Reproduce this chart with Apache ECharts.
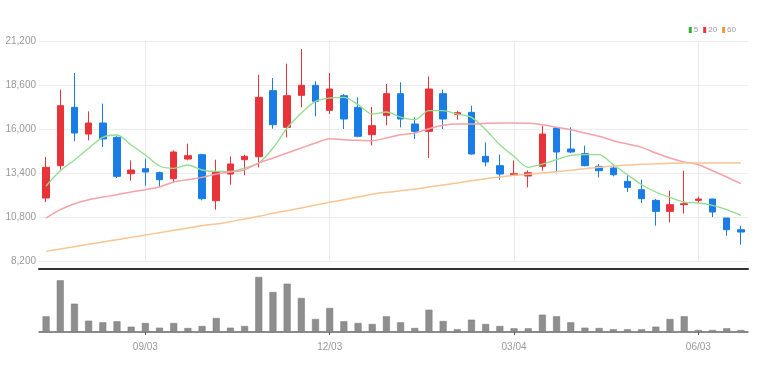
<!DOCTYPE html>
<html><head><meta charset="utf-8">
<script src="https://cdn.jsdelivr.net/npm/echarts@6/dist/echarts.min.js"></script>
<style>html,body{margin:0;padding:0;background:#fff}#c{width:764px;height:374px}</style>
</head><body><div id="c"></div>
<script>
// candle values: [open, close, low, high]
const opens  = [11939,13850,17297,15721,16371,15524,13377,13673,13436,13082,14244,14500,11781,13357,14204,14382,18282,16115,18007,18598,17120,17987,17297,15682,16825,18105,16312,15879,18105,16864,17002,14401,13850,13279,13239,13810,16076,14835,14559,13810,13712,12924,12431,11801,11151,11545,11801,11880,10757,10067];
const closes = [13751,17396,15780,16371,15426,13219,13594,13476,13022,14658,14441,11900,13456,13948,14401,17888,16273,17987,18598,17652,18381,16608,15583,16214,18105,16608,15879,18381,16608,16982,14539,14067,13357,13377,13436,15721,14658,14658,13850,13554,13318,12569,11900,11151,11545,11604,11880,11112,10067,9930];
const lows   = [11703,13613,15288,15347,14953,13121,12963,12668,12589,12825,14165,11801,11249,12727,13279,13751,16037,15524,17297,16765,16903,16017,15524,15052,16234,16115,15426,14303,16017,16568,14500,13810,13022,13279,12569,13554,13456,14598,13810,13160,13219,12294,11643,10304,10501,11013,11643,10816,9713,9181];
const highs  = [14362,18341,19326,17061,17514,15600,14165,14264,13500,14756,15150,14559,14204,14401,14500,19228,19031,19878,20745,18834,19326,18085,17888,17317,18676,18775,16706,19129,18341,17100,17396,15229,14500,14165,13574,16214,16115,16115,15032,13948,13948,13279,13022,11880,12372,13554,12018,11900,10760,10304];
const volumes = [15.7,51.7,28.3,11.3,9.7,10.7,5.3,9,4.3,9,4,6,14,4.3,6,55,40,48.3,34,13,24,10.7,9,8,15.7,9.7,4,22.3,11,2.7,12.3,8,6,3.7,3.7,17.3,15.7,9.7,4.3,4,2.7,2.7,2.7,5.3,13,15.7,2,2,3.7,2];
const ma5  = [12650,13550,14186,14877,15527,15664,15072,14481,13832,13695,13890,13595,13518,13515,13712,14008,14894,16076,16962,17652,17849,17888,17455,16903,17022,16726,16569,17100,17100,16903,16707,15978,15091,14402,13751,13948,14204,14461,14500,14500,13909,13318,12727,12294,11979,11703,11644,11506,11250,10915];
const ma20 = [10757,11250,11604,11841,11998,12136,12294,12432,12589,12885,13023,13160,13360,13476,13614,14008,14303,14599,14894,15190,15446,15387,15347,15328,15485,15682,15781,16037,16234,16313,16313,16352,16372,16372,16352,16273,16115,15978,15781,15584,15328,15130,14934,14599,14303,14067,13909,13554,13180,12786];
const ma60 = [8787,8925,9063,9201,9339,9477,9614,9752,9890,10028,10166,10304,10402,10540,10698,10856,11033,11190,11348,11525,11683,11841,11998,12156,12274,12373,12471,12589,12707,12826,12963,13082,13180,13279,13338,13417,13495,13574,13673,13751,13830,13889,13929,13968,13988,14008,14008,14008,14008,14008];
const tickIndex  = [7, 20, 33, 46];
const tickLabels = ['09/03', '12/03', '03/04', '06/03'];
const yTicks = [8200, 10800, 13400, 16000, 18600, 21200];

const categories = opens.map((_, i) => 'd' + i);
const labelOf = {};
tickIndex.forEach((ix, k) => { labelOf[categories[ix]] = tickLabels[k]; });
const showTick = (idx) => tickIndex.indexOf(idx) >= 0;
const candleData = opens.map((o, i) => [o, closes[i], lows[i], highs[i]]);
const FONT = "'Liberation Sans Narrow', 'Liberation Sans', sans-serif";

const chart = echarts.init(document.getElementById('c'), null, {renderer: 'canvas'});
chart.setOption({
  animation: false,
  backgroundColor: '#fff',
  legend: {
    right: 23, top: 21,
    itemWidth: 3, itemHeight: 6, itemGap: 5,
    textStyle: {fontSize: 8, color: '#999', fontFamily: FONT, padding: [0, 0, 0, -3]},
    data: [{name: '5', icon: 'rect'}, {name: '20', icon: 'rect'}, {name: '60', icon: 'rect'}]
  },
  grid: [
    {left: 39, right: 16, top: 41.3, bottom: 112.7},
    {left: 39, right: 16, top: 275, bottom: 42}
  ],
  xAxis: [
    {type: 'category', gridIndex: 0, data: categories, boundaryGap: true, offset: 7,
     axisLine: {show: true, lineStyle: {color: '#333', width: 2}},
     axisTick: {show: false}, axisLabel: {show: false}, splitLine: {show: false}},
    {type: 'category', gridIndex: 1, data: categories, boundaryGap: true,
     axisLine: {show: true, lineStyle: {color: '#666', width: 1.5}},
     axisTick: {show: true, alignWithLabel: true, interval: (i) => showTick(i), length: 3, lineStyle: {color: '#555'}},
     axisLabel: {show: true, interval: (i) => showTick(i), formatter: (v) => labelOf[v] || '', color: '#999', fontSize: 10, fontFamily: FONT, margin: 10},
     splitLine: {show: false}}
  ],
  yAxis: [
    {type: 'value', gridIndex: 0, min: 8200, max: 21200, interval: 2600, position: 'left',
     axisLine: {show: false}, axisTick: {show: false},
     axisLabel: {color: '#999', fontSize: 10, fontFamily: FONT, margin: 3,
       formatter: (v) => yTicks.indexOf(v) >= 0 ? v.toLocaleString('en-US') : ''},
     splitLine: {show: true, lineStyle: {color: '#ececec', width: 1}}},
    {type: 'value', gridIndex: 1, min: 0, max: 57, show: false, splitLine: {show: false}}
  ],
  series: [
    {type: 'candlestick', name: 'price', xAxisIndex: 0, yAxisIndex: 0, data: candleData, barWidth: 7, z: 3,
     itemStyle: {color: '#e8333b', color0: '#1a7de6', borderColor: '#e8333b', borderColor0: '#1a7de6', borderWidth: 1},
     markLine: {silent: true, symbol: 'none', z: 1, label: {show: false},
       lineStyle: {color: '#e9e9e9', type: 'solid', width: 1},
       data: tickIndex.map(i => ({xAxis: categories[i]}))}},
    {type: 'line', name: '5', xAxisIndex: 0, yAxisIndex: 0, data: ma5, smooth: 0.3, showSymbol: false, z: 4,
     itemStyle: {color: '#2cb52c'}, lineStyle: {color: '#92dc8e', width: 1.3}},
    {type: 'line', name: '20', xAxisIndex: 0, yAxisIndex: 0, data: ma20, smooth: 0.3, showSymbol: false, z: 4,
     itemStyle: {color: '#e8333b'}, lineStyle: {color: '#f5a2a8', width: 1.5}},
    {type: 'line', name: '60', xAxisIndex: 0, yAxisIndex: 0, data: ma60, smooth: 0.3, showSymbol: false, z: 4,
     itemStyle: {color: '#f5982f'}, lineStyle: {color: '#f9c594', width: 1.5}},
    {type: 'bar', name: 'vol', xAxisIndex: 1, yAxisIndex: 1, data: volumes, barWidth: 7,
     itemStyle: {color: '#8e8e8e', borderColor: '#7a7a7a', borderWidth: 0.5}}
  ]
});
</script></body></html>
